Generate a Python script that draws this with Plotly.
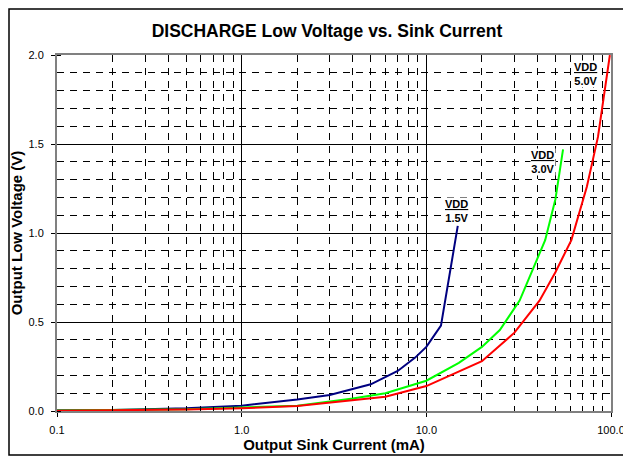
import math
import plotly.graph_objs as go

# Output sink current (mA) and output low voltage (V) per supply voltage
vdd15_current = [0.1, 0.2, 0.5, 1.0, 2.0, 3.0, 5.0, 7.0, 8.7, 10.0, 12.0, 14.8]
vdd15_voltage = [0.004, 0.006, 0.015, 0.03, 0.065, 0.09, 0.15, 0.225, 0.30, 0.36, 0.48, 1.04]

vdd30_current = [0.1, 0.5, 1.0, 2.0, 4.0, 6.0, 10.0, 15.0, 20.0, 25.0, 32.0, 44.0, 50.0, 55.0]
vdd30_voltage = [0.003, 0.01, 0.02, 0.03, 0.07, 0.10, 0.17, 0.27, 0.36, 0.455, 0.62, 0.96, 1.19, 1.47]

vdd50_current = [0.1, 0.5, 1.0, 2.0, 6.0, 10.0, 20.0, 30.0, 41.0, 50.0, 61.0, 74.0, 85.0, 98.6]
vdd50_voltage = [0.002, 0.008, 0.015, 0.028, 0.08, 0.14, 0.28, 0.44, 0.62, 0.78, 0.96, 1.26, 1.54, 2.0]

x_ticks = [0.1, 1, 10, 100]
x_tick_labels = ['0.1', '1.0', '10.0', '100.0']
x_minor = [m * d for d in (0.1, 1, 10) for m in range(2, 10)]

labels = ['<span style="text-decoration:underline">VDD</span><br>1.5V',
          '<span style="text-decoration:underline">VDD</span><br>3.0V',
          '<span style="text-decoration:underline">VDD</span><br>5.0V']
label_x = [14.7, 42.7, 73.0]
label_y = [1.126, 1.40, 1.895]

fig = go.Figure()

for xs, ys, color in [(vdd15_current, vdd15_voltage, '#000080'),
                      (vdd30_current, vdd30_voltage, '#00ff00'),
                      (vdd50_current, vdd50_voltage, '#ff0000')]:
    fig.add_trace(go.Scatter(x=xs, y=ys, mode='lines',
                             line=dict(color=color, width=2),
                             showlegend=False))

# VDD labels on the curves (annotation x is in log units on a log axis)
for text, lx, ly in zip(labels, label_x, label_y):
    fig.add_annotation(x=math.log10(lx), y=ly, xref='x', yref='y', text='<b>' + text + '</b>',
                       showarrow=False, bgcolor='white', borderpad=0,
                       font=dict(family='Liberation Sans, Arial', size=11, color='black'))

# page body has an 8px margin, so the figure is a bit smaller than the window
fig.update_layout(
    width=623, height=452,
    margin=dict(l=49, r=20, t=47, b=49, autoexpand=False),
    paper_bgcolor='white',
    plot_bgcolor='white',
    font=dict(family='Liberation Sans, Arial', color='black'),
    title=dict(text='<b>DISCHARGE Low Voltage vs. Sink Current</b>',
               x=(327 - 8) / 623, xanchor='center', y=1 - 23 / 452, yanchor='middle',
               font=dict(size=17.5)),
)

fig.update_xaxes(
    type='log', range=[-1, 2], automargin=False,
    tickvals=x_ticks, ticktext=x_tick_labels,
    tickfont=dict(size=11), ticklabelstandoff=4,
    ticks='outside', ticklen=4, tickcolor='black',
    showgrid=True, gridcolor='black', gridwidth=1,
    minor=dict(tickvals=x_minor, showgrid=True, gridcolor='black',
               griddash='7px,6px', ticks='inside', ticklen=4, tickcolor='black'),
    showline=True, linecolor='#808080', linewidth=2, mirror=True,
    zeroline=False,
    title=dict(text='<b>Output Sink Current (mA)</b>', font=dict(size=15), standoff=4),
)

fig.update_yaxes(
    range=[0, 2.0], dtick=0.5, tickformat='.1f', automargin=False,
    tickfont=dict(size=11), ticklabelstandoff=5,
    ticks='outside', ticklen=4, tickcolor='black',
    showgrid=True, gridcolor='black', gridwidth=1,
    minor=dict(dtick=0.1, showgrid=True, gridcolor='black',
               griddash='7px,6px', ticks='inside', ticklen=4, tickcolor='black'),
    showline=True, linecolor='#808080', linewidth=2, mirror=True,
    zeroline=False,
    title=dict(text='<b>Output Low Voltage (V)</b>', font=dict(size=15), standoff=8),
)

# Outer frame around the whole chart (kept just inside the figure edges)
fig.add_shape(type='rect', xref='paper', yref='paper',
              x0=(1 - 49) / 554, x1=(618 - 49) / 554,
              y0=1 - (447 - 47) / 356, y1=1 + (47 - 1) / 356,
              line=dict(color='black', width=1.5), fillcolor='rgba(0,0,0,0)')

fig.write_html("out.html")
